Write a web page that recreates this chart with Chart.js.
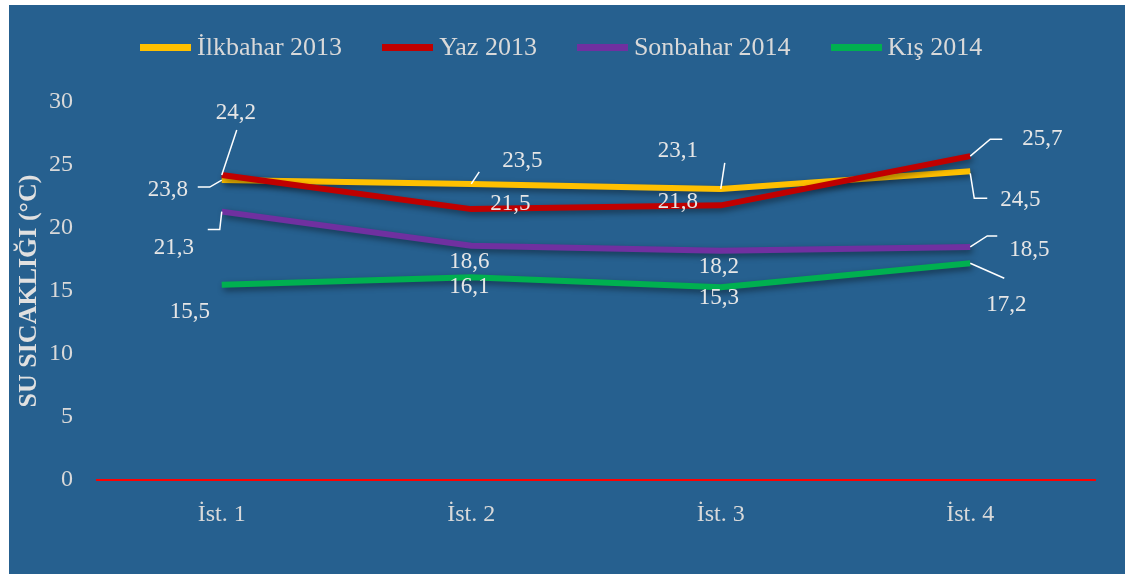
<!DOCTYPE html>
<html>
<head>
<meta charset="utf-8">
<script src="https://cdn.jsdelivr.net/npm/chart.js@4/dist/chart.umd.min.js"></script>
<style>
  body { margin: 0; background: #fff; }
  #panel { position: absolute; left: 9px; top: 5px; width: 1116px; height: 569px; background: #26608f; }
  #legend { position: absolute; left: 131px; top: 27px; display: flex; gap: 40px; font-family: "Liberation Serif", serif; font-size: 26px; line-height: 30px; color: #d9d9d9; }
  #legend .item { display: flex; align-items: center; }
  #legend .sw { width: 51px; height: 7px; margin-right: 6px; }
</style>
</head>
<body>
<div id="panel">
  <canvas id="chart"></canvas>
  <div id="legend"></div>
</div>
<script>
const categories = ["İst. 1", "İst. 2", "İst. 3", "İst. 4"]
const seriesNames = ["İlkbahar 2013", "Yaz 2013", "Sonbahar 2014", "Kış 2014"]
const ilkbahar = [23.8, 23.5, 23.1, 24.5]
const yaz = [24.2, 21.5, 21.8, 25.7]
const sonbahar = [21.3, 18.6, 18.2, 18.5]
const kis = [15.5, 16.1, 15.3, 17.2]
const colors = ["#FFC000", "#C00000", "#7030A0", "#00B050"]

// label offsets from the point [dx, dy] and leader lines (relative to the point)
const labelPos = [
  [[-54, 10], [51, -23], [-43, -38], [50, 29]],
  [[14, -62], [39, -5], [-43, -3], [72, -17]],
  [[-48, 36], [-2, 16], [-2, 16], [59, 3]],
  [[-32, 27], [-2, 10], [-2, 11], [36, 42]]
]
const leaders = [
  [[[0, 0], [-12, 7], [-24, 7]], [[0, 0], [8, -12]], [[0, 0], [4, -26]], [[0, 2], [4, 27], [17, 27]]],
  [[[0, 0], [15, -45]], null, null, [[0, 0], [20, -17], [32, -17]]],
  [[[0, 0], [-2, 18], [-14, 18]], null, null, [[0, 0], [17, -11], [27, -11]]],
  [null, null, null, [[0, 0], [34, 15]]]
]

const shadow = {
  id: 'shadow',
  beforeDatasetDraw(chart) {
    const c = chart.ctx
    c.save()
    c.shadowColor = 'rgba(0,0,0,0.45)'
    c.shadowBlur = 6
    c.shadowOffsetX = 2
    c.shadowOffsetY = 3
  },
  afterDatasetDraw(chart) {
    chart.ctx.restore()
  }
}

const valueLabels = {
  id: 'valueLabels',
  afterDatasetsDraw(chart) {
    const c = chart.ctx
    c.save()
    c.font = '23px "Liberation Serif"'
    c.fillStyle = '#e6e6e6'
    c.strokeStyle = '#ffffff'
    c.lineWidth = 1.5
    c.textAlign = 'center'
    c.textBaseline = 'middle'
    chart.data.datasets.forEach((ds, d) => {
      const meta = chart.getDatasetMeta(d)
      meta.data.forEach((pt, i) => {
        const ln = leaders[d][i]
        if (ln) {
          c.beginPath()
          ln.forEach((p, k) => k ? c.lineTo(pt.x + p[0], pt.y + p[1]) : c.moveTo(pt.x + p[0], pt.y + p[1]))
          c.stroke()
        }
        const o = labelPos[d][i]
        c.fillText(ds.data[i].toFixed(1).replace('.', ','), pt.x + o[0], pt.y + o[1])
      })
    })
    c.restore()
  }
}

const all = [ilkbahar, yaz, sonbahar, kis]
const order = [1, 0, 2, 3]

new Chart('chart', {
  type: 'line',
  data: {
    labels: categories,
    datasets: all.map((vals, i) => ({
      label: seriesNames[i],
      data: vals,
      borderColor: colors[i],
      backgroundColor: colors[i],
      borderWidth: 6,
      pointRadius: 0,
      tension: 0,
      order: order[i]
    }))
  },
  options: {
    responsive: true,
    maintainAspectRatio: false,
    animation: false,
    layout: { padding: { top: 97, right: 30, left: 0, bottom: 0 } },
    plugins: { legend: { display: false }, tooltip: { enabled: false } },
    scales: {
      x: {
        offset: true,
        grid: { display: false },
        border: { display: true, color: '#ff0000', width: 2 },
        ticks: { color: '#d9d9d9', padding: 12, font: { family: 'Liberation Serif', size: 24 } },
        afterFit(s) { s.height = 94 }
      },
      y: {
        min: 0,
        max: 30,
        grid: { display: false, drawTicks: false },
        border: { display: false },
        ticks: { stepSize: 5, color: '#d9d9d9', padding: 24, font: { family: 'Liberation Serif', size: 24 } },
        title: {
          display: true,
          text: 'SU SICAKLIĞI (°C)',
          color: '#e0e0e0',
          padding: { top: 5, bottom: 0 },
          font: { family: 'Liberation Serif', size: 26, weight: 'bold' }
        },
        afterFit(s) { s.width = 88 }
      }
    }
  },
  plugins: [shadow, valueLabels]
})

const legend = document.getElementById('legend')
seriesNames.forEach((name, i) => {
  const item = document.createElement('div')
  item.className = 'item'
  item.innerHTML = '<span class="sw" style="background:' + colors[i] + '"></span><span>' + name + '</span>'
  legend.appendChild(item)
})
</script>
</body>
</html>
